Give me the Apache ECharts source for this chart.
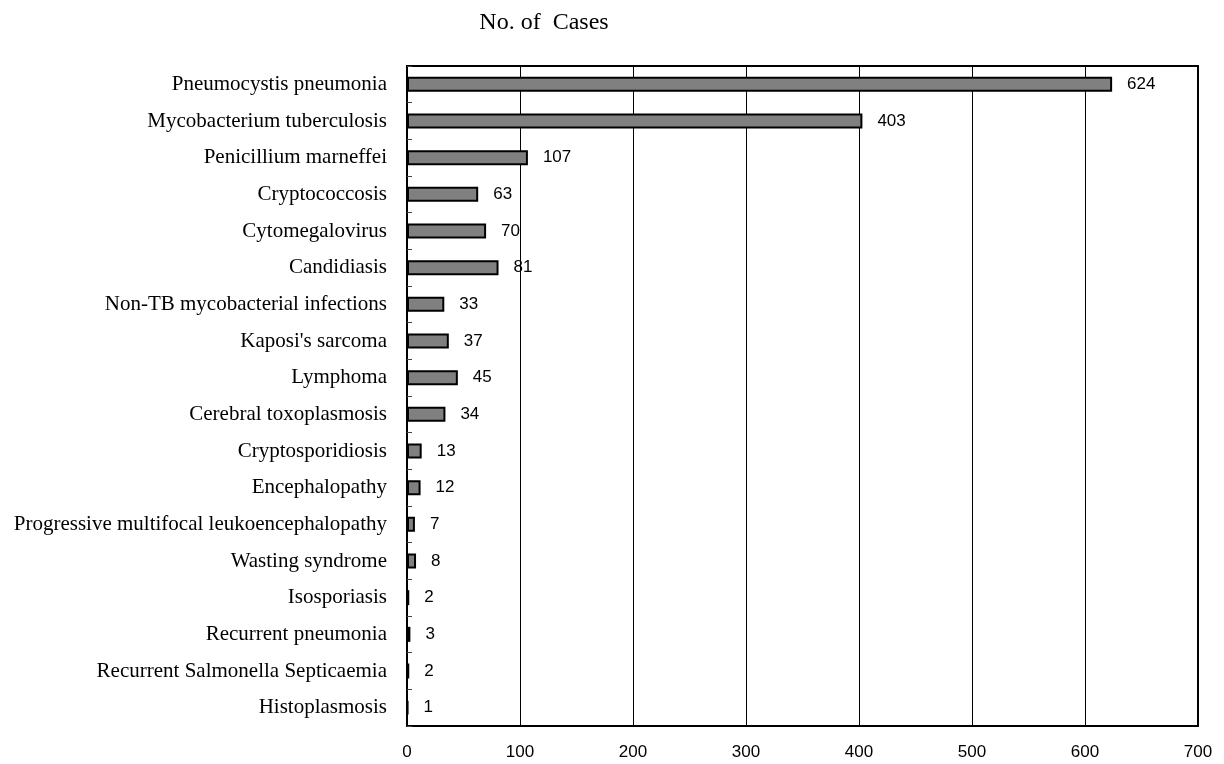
<!DOCTYPE html>
<html>
<head>
<meta charset="utf-8">
<script src="https://cdn.jsdelivr.net/npm/echarts@6/dist/echarts.min.js"></script>
<style>
  html, body { margin: 0; padding: 0; background: #fff; }
  #chart { width: 1224px; height: 764px; }
</style>
</head>
<body>
<div id="chart"></div>
<script>
// Opportunistic infections, top to bottom
const categories = [
  'Pneumocystis pneumonia',
  'Mycobacterium tuberculosis',
  'Penicillium marneffei',
  'Cryptococcosis',
  'Cytomegalovirus',
  'Candidiasis',
  'Non-TB mycobacterial infections',
  "Kaposi's sarcoma",
  'Lymphoma',
  'Cerebral toxoplasmosis',
  'Cryptosporidiosis',
  'Encephalopathy',
  'Progressive multifocal leukoencephalopathy',
  'Wasting syndrome',
  'Isosporiasis',
  'Recurrent pneumonia',
  'Recurrent Salmonella Septicaemia',
  'Histoplasmosis'
];
const cases = [624, 403, 107, 63, 70, 81, 33, 37, 45, 34, 13, 12, 7, 8, 2, 3, 2, 1];
const axisTitle = 'No. of  Cases';
const xMin = 0, xMax = 700, xStep = 100;

const serif = '"Liberation Serif", "Times New Roman", serif';
const sans = '"Liberation Sans", Arial, sans-serif';

const chart = echarts.init(document.getElementById('chart'));
chart.setOption({
  animation: false,
  backgroundColor: '#fff',
  title: {
    text: axisTitle,
    left: 539, top: 6, textAlign: 'center',
    textStyle: { fontFamily: serif, fontSize: 24, fontWeight: 'normal', color: '#000' }
  },
  grid: {
    left: 407, right: 26, top: 66, bottom: 38,
    show: true, borderColor: '#000', borderWidth: 2, backgroundColor: 'transparent'
  },
  xAxis: {
    type: 'value', min: xMin, max: xMax, interval: xStep,
    axisLine: { show: false },
    axisTick: { show: false },
    splitLine: { show: true, lineStyle: { color: '#000', width: 1 } },
    axisLabel: { margin: 18, fontFamily: sans, fontSize: 17, color: '#000' }
  },
  yAxis: {
    type: 'category', data: categories, inverse: true,
    axisLine: { show: true, lineStyle: { color: '#000', width: 2 } },
    axisTick: { show: true, inside: true, length: 5, lineStyle: { color: '#444', width: 1 } },
    axisLabel: { margin: 20, fontFamily: serif, fontSize: 21, color: '#000' },
    splitLine: { show: false }
  },
  series: [{
    type: 'bar',
    data: cases,
    barWidth: 15,
    itemStyle: { color: '#808080', borderColor: '#000', borderWidth: 2 },
    label: {
      show: true, position: 'right', distance: 15,
      fontFamily: sans, fontSize: 17, color: '#000'
    }
  }]
});
</script>
</body>
</html>
